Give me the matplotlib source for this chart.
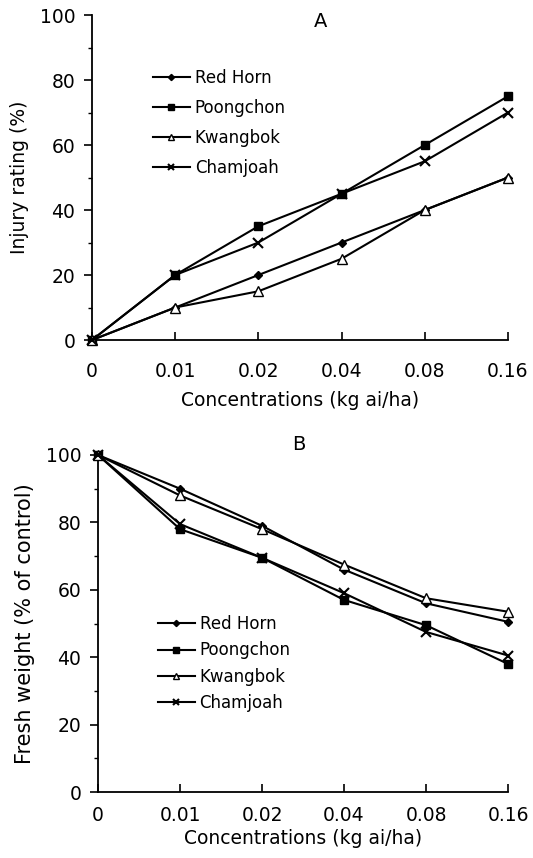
import numpy as np
import matplotlib
matplotlib.use("Agg")
import matplotlib.pyplot as plt

plt.rcParams["font.family"] = ["DejaVu Sans"]

concentrations = ["0", "0.01", "0.02", "0.04", "0.08", "0.16"]
cultivars = ["Red Horn", "Poongchon", "Kwangbok", "Chamjoah"]

# Panel A: injury rating (%)
injury_red_horn = [0, 10, 20, 30, 40, 50]
injury_poongchon = [0, 20, 35, 45, 60, 75]
injury_kwangbok = [0, 10, 15, 25, 40, 50]
injury_chamjoah = [0, 20, 30, 45, 55, 70]

# Panel B: fresh weight (% of control)
weight_red_horn = [100, 90, 79, 66, 56, 50.5]
weight_poongchon = [100, 78, 69.5, 57, 49.5, 38]
weight_kwangbok = [100, 88, 78, 67.5, 57.5, 53.5]
weight_chamjoah = [100, 79.5, 69.5, 59, 47.5, 40.5]

styles = {
    "Red Horn": dict(marker="D", markersize=4.5, markerfacecolor="black"),
    "Poongchon": dict(marker="s", markersize=6, markerfacecolor="black"),
    "Kwangbok": dict(marker="^", markersize=6.5, markerfacecolor="white"),
    "Chamjoah": dict(marker="x", markersize=7, markeredgewidth=1.5),
}

fig = plt.figure(figsize=(5.33, 8.58), dpi=100)
ax_a = fig.add_axes([0.1726, 0.6037, 0.7804, 0.3788])
ax_b = fig.add_axes([0.1839, 0.0769, 0.7692, 0.3928])

x = np.arange(len(concentrations))


def draw(ax, series, ylabel, ylabel_size, letter, letter_xy, legend_anchor, spacing):
    for name, vals in zip(cultivars, series):
        ax.plot(x, vals, color="black", linewidth=1.5, markeredgecolor="black",
                clip_on=False, zorder=3, label=name, **styles[name])
    ax.set_xlim(0, len(concentrations) - 1)
    ax.set_ylim(0, 100)
    ax.set_xticks(x)
    ax.set_xticklabels(concentrations)
    ax.set_yticks(np.arange(0, 101, 20))
    ax.set_yticks(np.arange(10, 100, 20), minor=True)
    for side in ("top", "right"):
        ax.spines[side].set_visible(False)
    for side in ("left", "bottom"):
        ax.spines[side].set_linewidth(1.3)
    ax.tick_params(axis="x", direction="in", length=6, width=1.2,
                   labelsize=13.5, pad=16)
    ax.tick_params(axis="y", which="major", direction="out", length=6,
                   width=1.2, labelsize=13.5, pad=6)
    ax.tick_params(axis="y", which="minor", direction="out", length=3,
                   width=1.0)
    ax.set_xlabel("Concentrations (kg ai/ha)", fontsize=13.5, labelpad=7)
    ax.set_ylabel(ylabel, fontsize=ylabel_size, labelpad=8)
    ax.text(letter_xy[0], letter_xy[1], letter, transform=ax.transAxes,
            fontsize=14, ha="center", va="center")
    ax.legend(loc="upper left", bbox_to_anchor=legend_anchor, frameon=False,
              fontsize=12, handlelength=2.2, handletextpad=0.3,
              labelspacing=spacing, borderpad=0, borderaxespad=0,
              markerscale=0.7)


draw(ax_a, [injury_red_horn, injury_poongchon, injury_kwangbok, injury_chamjoah],
     "Injury rating (%)", 13.5, "A", (0.55, 0.98), (0.147, 0.835), 0.72)
draw(ax_b, [weight_red_horn, weight_poongchon, weight_kwangbok, weight_chamjoah],
     "Fresh weight (% of control)", 15, "B", (0.49, 1.03), (0.146, 0.525), 0.5)
ax_b.tick_params(axis="x", pad=10)
ax_b.set_xlabel("Concentrations (kg ai/ha)", fontsize=13.5, labelpad=3)

fig.savefig("out.png", dpi=100)
